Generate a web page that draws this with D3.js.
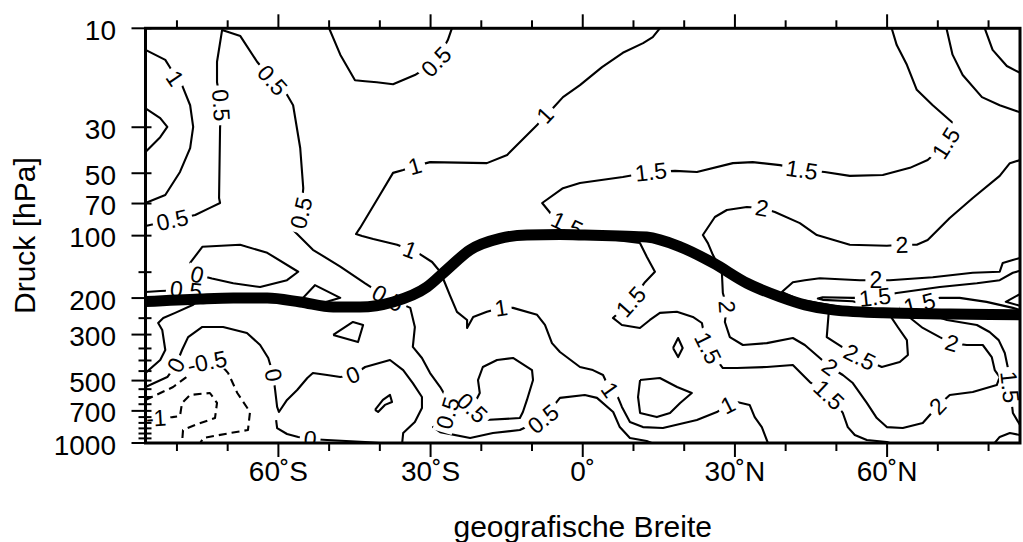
<!DOCTYPE html>
<html>
<head>
<meta charset="utf-8">
<script src="https://cdn.jsdelivr.net/npm/d3@7"></script>
<style>
  body { margin: 0; background: #fff; }
  svg { display: block; }
  text { font-family: "Liberation Sans", Arial, Helvetica, sans-serif; fill: #000; }
</style>
</head>
<body>
<svg id="chart" width="1023" height="542"></svg>
<script>
// ---------- axes ----------
const latMajorTicks = [-60, -30, 0, 30, 60];
const latMajorLabels = ["60˚S", "30˚S", "0˚", "30˚N", "60˚N"];
const latMinorTicks = [-80, -70, -50, -40, -20, -10, 10, 20, 40, 50, 70, 80];
const pressureTicks = [10, 30, 50, 70, 100, 200, 300, 500, 700, 1000];
const pressureLevelTicks = [150, 250, 350, 400, 450, 550, 600, 650, 750, 800, 850, 900, 950];

// ---------- tropopause (lat, hPa) ----------
const tropopause = [[-86.2,208],[-75.4,202],[-68.9,200],[-62.2,200],[-55.7,209],[-49.2,221],[-43.9,221],
  [-37.4,209],[-30.7,177],[-26.8,146],[-22.2,117],[-16.3,103],[-11.0,99.3],[-4.5,98.8],[0.4,99.3],
  [7.3,100.4],[12.6,101.6],[19.2,113.2],[25.7,135.4],[32.4,169.6],[38.9,197.3],[43.8,215.6],
  [49.3,228],[59.2,235.7],[72.4,238.4],[86.2,241]];

// ---------- isolines (lat, hPa) ----------
const iso05a = [[-86.2,89.9],[-80.9,84.1],[-76.4,79.5],[-73.5,73.5],[-71.5,69.6],[-71.7,65.8],[-71.5,30.2],
  [-71.3,23.5],[-72.1,18.2],[-72.1,14.5],[-71.1,10.2],[-67.5,10.9],[-64.2,14.5],[-61.2,17.8],[-58.3,20.9],
  [-57.1,23.5],[-55.7,37.8],[-55.1,59.0],[-55.5,77.7],[-57.1,93.9],[-53.2,117],[-47.8,141],[-42.9,170],
  [-38.4,200],[-34.0,223],[-33.1,276],[-33.5,344],[-31.7,389],[-30.1,460],[-28.1,537],[-26.6,620],
  [-26.6,717],[-28.1,819],[-29.5,838],[-28.1,886],[-22.2,946],[-17.7,895],[-12.4,866],[-7.8,766],
  [-4.5,606],[0.4,587],[2.8,606],[6.0,709],[7.3,838],[9.3,946],[12.6,978],[13.6,1000]];
const iso05aLabels = [[-80.9,84.1],[-71.3,23.5],[-61.2,17.8],[-55.5,77.7],[-38.4,200],[-26.6,717],[-7.8,766]];

const iso05b = [[-50.0,10],[-47.8,13.4],[-44.9,17.8],[-42.9,18.0],[-40.6,18.2],[-37.4,18.6],[-33.1,16.8],
  [-28.9,14.5],[-26.6,11.4],[-25.8,10]];
const iso05bLabels = [[-28.9,14.5]];

const iso1a = [[-86.2,12.7],[-82.3,14.2],[-81.3,15.55],[-80.4,17.4],[-79.0,18.8],[-77.4,23.5],[-76.8,29.9],
  [-77.4,37.8],[-79.4,49.3],[-82.3,63.7],[-86.2,69.6]];
const iso1aLabels = [[-80.4,17.4]];

const iso15a = [[-86.2,24.3],[-83.3,27.1],[-81.9,29.9],[-83.3,33.5],[-86.2,39.5]];

const iso1b = [[15.2,10],[13.8,11.03],[11.9,11.79],[7.9,13.13],[3.8,15.38],[-0.55,18.8],[-3.9,21.47],
  [-5.9,24.3],[-7.45,26.2],[-9.0,29.3],[-14.9,40.8],[-18.9,44.7],[-30.1,44.2],[-33.1,46.2],[-35.4,48.2],
  [-37.4,49.8],[-40.0,63.7],[-43.9,91.8],[-44.7,98.2],[-43.5,100.4],[-41.3,103.8],[-36.6,110.7],
  [-34.05,117],[-32.5,121],[-29.7,134],[-28.1,149.3],[-27.15,169.6],[-26.2,193.4],[-24.8,233],
  [-22.8,255],[-22.8,278.7],[-21.6,246.6],[-18.9,233],[-16.1,223],[-13.75,223],[-9.0,241],[-7.45,269.6],
  [-6.07,329.8],[-4.49,364],[-0.55,430],[2.0,445],[4.0,470],[5.36,555],[6.74,586.5],[7.72,670],
  [9.3,792],[11.86,838],[15.8,847],[22.5,775],[26.44,709],[28.6,655],[30.4,634],[32.9,655],[33.9,750],
  [35.3,838],[36.5,1000]];
const iso1bLabels = [[-7.45,26.2],[-33.1,46.2],[-34.05,117],[-16.1,223],[5.36,555],[28.6,655]];

const iso15b = [[60.9,10],[61.9,12.05],[63.9,15.0],[65.85,19.8],[69.0,23.5],[72.75,28.3],[71.6,35.8],
  [68.0,43.2],[64.5,47.1],[59.15,51.0],[52.65,51.5],[47.7,49.3],[43.2,48.2],[38.9,45.7],[33.5,44.2],
  [29.6,44.7],[22.5,49.3],[18.2,48.7],[13.44,49.3],[7.9,52.1],[-0.55,55.7],[-3.9,59.0],[-8.0,69.6],
  [-6.07,79.5],[-3.1,88.5],[1.0,96],[5.36,104],[11.27,108.6],[12.65,126.7],[14.23,149.3],
  [12.26,167.7],[9.5,208.6],[5.95,249.4],[7.72,269.6],[11.27,278.7],[13.24,255],[15.21,235.7],
  [18.56,233],[21.71,246.6],[23.49,263.8],[23.68,278.7],[24.67,348],[27.62,435],[30.38,435],
  [36.29,430],[41.42,420.9],[43.78,480.7],[44.77,508],[48.51,586.5],[51.27,716.5],[52.25,838],
  [53.63,915],[56.0,967],[59.94,989],[60.53,1000]];
const iso15bLabels = [[71.6,35.8],[43.2,48.2],[13.44,49.3],[-3.1,88.5],[9.5,208.6],[24.67,348],[48.51,586.5]];

const iso2a = [[86.2,43.2],[84.2,44.7],[82.2,51.5],[76.9,65.8],[72.35,82.2],[69.0,99.3],[68.0,105],
  [65.85,110.7],[62.9,110.7],[59.94,111.9],[52.65,110.7],[46.15,99.3],[42.8,87.0],[37.87,76.9],
  [35.31,73.5],[32.35,72.7],[28.41,75.2],[26.05,81.3],[23.68,99.3],[24.67,108.6],[25.65,123.7],
  [27.43,151],[27.62,189.2],[28.41,220.5],[28.02,260.8],[29.0,308.5],[31.57,336.8],[36.29,329.8],
  [41.42,311.7],[43.78,336.8],[46.74,389],[48.71,430],[51.27,470],[53.24,513.9],[56.0,641],
  [57.97,758],[59.94,838],[63.09,847],[67.03,801],[69.99,663],[72.35,586.5],[76.89,567.5],
  [81.61,525.4],[82.2,480.7],[81.22,445],[80.63,385],[78.86,336.8],[75.7,336.8],[72.75,329.8],
  [70.38,308.5],[67.03,278.7],[65.06,255],[63.88,241],[58.56,233],[50.68,220.5],[42.8,204],
  [39.25,187],[41.42,167.7],[43.78,164],[46.74,160.4],[54.62,164],[57.77,164],[60.53,164],
  [69.0,158.6],[76.89,151],[82.2,149.3],[82.8,135.4],[84.77,131],[86.2,128.1]];
const iso2aLabels = [[62.9,110.7],[35.31,73.5],[28.41,220.5],[48.71,430],[69.99,663],[72.75,329.8],[57.77,164]];

const iso2b = [[71.7,10],[72.9,13.4],[74.9,16.8],[78.7,21.47],[82.2,23.5],[86.2,25.4]];
const iso25a = [[79.25,10],[80.8,12.7],[83.6,15.2],[86.2,16.4]];

const iso25b = [[48.5,233],[48.1,308.5],[51.1,344],[54.6,385],[58.95,430],[62.5,407],[64.1,376],
  [63.9,319],[62.1,275.7],[60.9,249.4],[60.5,233]];
const iso25bLabels = [[54.6,385]];

const iso15c = [[56.6,218],[53.2,207.2],[47.3,204],[46.35,201],[47.3,198.2],[53.2,199.5],[57.6,198.2],
  [61.9,189.2],[70.4,177],[77.7,169.6],[82.2,164],[84.8,151],[86.2,147.6]];
const iso15cLabels = [[57.6,198.2]];

const iso15d = [[62.5,223],[66.4,213.3],[70.4,199.5],[74.3,199.5],[79.6,208.6],[84.8,223],[86.2,228]];
const iso15dLabels = [[66.4,213.3]];

const iso2c = [[86.2,191.3],[83.4,208.6],[86.2,218]];

const iso15e = [[69.4,244],[71.8,255],[77.7,269.6],[80.2,291.4],[82.0,319],[83.2,368],[83.9,445],
  [84.2,537],[84.8,716.5],[86.2,819]];
const iso15eLabels = [[84.2,537]];

const iso15f = [[81.2,1000],[82.2,935],[84.2,895],[86.2,915]];
const iso15g = [[17.8,348],[18.8,311.7],[19.7,348],[18.8,385],[17.8,348]];

const iso0a = [[-76.0,154.3],[-73.1,160.9],[-68.9,169.6],[-63.6,177],[-58.3,164],[-56.1,149.3],
  [-62.2,121],[-67.55,110.7],[-75.0,113.2],[-77.4,135.4],[-76.0,154.3]];
const iso0aLabels = [[-76.0,154.3]];

const iso0b = [[-55.7,206.3],[-52.8,173.3],[-47.8,199.5],[-51.8,213.3],[-55.7,206.3]];
const iso0c = [[-49.2,301.3],[-45.3,260.8],[-43.3,269.6],[-44.3,326],[-49.2,301.3]];

const iso05c = [[-86.2,187],[-83.3,185],[-78.2,183],[-74.8,195.1],[-76.8,215.6],[-80.35,235.7],
  [-82.7,249.4],[-83.7,263.8],[-82.9,285],[-82.3,356],[-83.3,398],[-86.2,460]];
const iso05cLabels = [[-78.2,183]];

const iso0d = [[-86.2,537],[-81.9,480.7],[-80.2,420.9],[-79.0,356],[-77.8,308.5],[-75.0,275.7],
  [-70.9,275.7],[-66.2,294.7],[-63.6,336.8],[-62.0,389],[-61.0,470],[-60.65,555],[-60.25,670],
  [-59.9,708.6],[-58.3,620],[-56.3,555],[-54.3,486],[-53.2,460],[-50.4,470],[-47.8,480.7],[-45.3,470],
  [-42.9,430],[-38.0,398],[-35.4,445],[-33.5,513.9],[-31.7,600],[-31.7,678],[-33.1,792],[-35.4,895],
  [-35.6,1000]];
const iso0dLabels = [[-80.2,420.9],[-61.0,470],[-45.3,470]];

const iso0e = [[-60.45,775],[-60.25,847],[-58.3,905],[-56.1,935.3],[-53.75,956],[-50.4,967],[-42.9,989],[-40.0,1000]];
const iso0eLabels = [[-53.75,956]];

const iso0f = [[-40.95,693],[-39.4,620],[-38.0,586.5],[-37.6,634],[-39.0,655],[-40.35,708.6],[-40.95,693]];

const isoM05 = [[-86.2,620],[-80.75,537],[-76.8,455],[-74.05,407],[-71.1,425.6],[-69.9,460],[-68.1,573.9],
  [-65.6,708.6],[-66.0,866],[-69.5,895],[-74.8,945.7],[-75.4,1000]];
const isoM05Labels = [[-74.05,407]];

const isoM1 = [[-84.1,758],[-80.9,750],[-79.4,741],[-79.0,641],[-77.4,586.5],[-73.5,573.9],[-72.1,641],
  [-72.5,758],[-76.0,810],[-78.8,866],[-79.0,1000]];
const isoM1Labels = [[-84.1,758]];

const iso05d = [[-21.8,678],[-19.3,775],[-12.4,758],[-11.8,708.6],[-11.0,620],[-9.8,497],[-10.0,445],
  [-13.75,389],[-16.9,398],[-19.7,430],[-20.65,497],[-20.3,573.9],[-21.8,678]];
const iso05dLabels = [[-21.8,678]];

const iso05e = [[11.3,497],[15.2,486],[18.6,537],[21.5,573.9],[19.2,641],[17.2,716.5],[14.6,750],
  [11.3,716.5],[10.9,600],[11.3,497]];

// level of each isoline and its labels
const isolines = [
  { level: 0.5, pts: iso05a, labels: iso05aLabels },
  { level: 0.5, pts: iso05b, labels: iso05bLabels },
  { level: 1, pts: iso1a, labels: iso1aLabels },
  { level: 1.5, pts: iso15a, labels: [] },
  { level: 1, pts: iso1b, labels: iso1bLabels },
  { level: 1.5, pts: iso15b, labels: iso15bLabels },
  { level: 2, pts: iso2a, labels: iso2aLabels },
  { level: 2, pts: iso2b, labels: [] },
  { level: 2.5, pts: iso25a, labels: [] },
  { level: 2.5, pts: iso25b, labels: iso25bLabels },
  { level: 1.5, pts: iso15c, labels: iso15cLabels },
  { level: 1.5, pts: iso15d, labels: iso15dLabels },
  { level: 2, pts: iso2c, labels: [] },
  { level: 1.5, pts: iso15e, labels: iso15eLabels },
  { level: 1.5, pts: iso15f, labels: [] },
  { level: 1.5, pts: iso15g, labels: [] },
  { level: 0, pts: iso0a, labels: iso0aLabels },
  { level: 0, pts: iso0b, labels: [] },
  { level: 0, pts: iso0c, labels: [] },
  { level: 0.5, pts: iso05c, labels: iso05cLabels },
  { level: 0, pts: iso0d, labels: iso0dLabels },
  { level: 0, pts: iso0e, labels: iso0eLabels },
  { level: 0, pts: iso0f, labels: [] },
  { level: -0.5, pts: isoM05, labels: isoM05Labels },
  { level: -1, pts: isoM1, labels: isoM1Labels },
  { level: 0.5, pts: iso05d, labels: iso05dLabels },
  { level: 0.5, pts: iso05e, labels: [] }
];

// ---------- layout ----------
const W = 1023, H = 542;
const plot = { left: 145.5, right: 1020, top: 28.3, bottom: 443 };
const x = d3.scaleLinear().domain([-86.2, 86.2]).range([plot.left, plot.right]);
const y = d3.scaleLog().domain([10, 1000]).range([plot.top, plot.bottom]);

const svg = d3.select("#chart");
const defs = svg.append("defs");
defs.append("clipPath").attr("id", "plotClip")
  .append("rect")
  .attr("x", plot.left).attr("y", plot.top)
  .attr("width", plot.right - plot.left).attr("height", plot.bottom - plot.top);

const gapMask = defs.append("mask").attr("id", "labelGaps")
  .attr("maskUnits", "userSpaceOnUse")
  .attr("x", 0).attr("y", 0).attr("width", W).attr("height", H);
gapMask.append("rect").attr("width", W).attr("height", H).attr("fill", "#fff");

const lineGen = d3.line().x(d => x(d[0])).y(d => y(d[1]));

// isolines
const isoLayer = svg.append("g").attr("clip-path", "url(#plotClip)")
  .append("g").attr("mask", "url(#labelGaps)");
isoLayer.selectAll("path")
  .data(isolines)
  .join("path")
  .attr("d", d => lineGen(d.pts))
  .attr("fill", "none")
  .attr("stroke", "#000")
  .attr("stroke-width", 2.1)
  .attr("stroke-linejoin", "round")
  .attr("stroke-dasharray", d => d.level < 0 ? "8,5" : null);

// label orientation follows the local direction of the isoline
function labelAngle(pts, lab) {
  const px = pts.map(d => [x(d[0]), y(d[1])]);
  const lx = x(lab[0]), ly = y(lab[1]);
  let bi = 0, bd = Infinity;
  px.forEach((q, i) => {
    const dd = (q[0] - lx) ** 2 + (q[1] - ly) ** 2;
    if (dd < bd) { bd = dd; bi = i; }
  });
  const a = px[Math.max(bi - 1, 0)], b = px[Math.min(bi + 1, px.length - 1)];
  let ang = Math.atan2(b[1] - a[1], b[0] - a[0]) * 180 / Math.PI;
  if (ang > 90) ang -= 180;
  if (ang < -90) ang += 180;
  return ang;
}

const labelLayer = svg.append("g").attr("clip-path", "url(#plotClip)");
isolines.forEach(iso => {
  iso.labels.forEach(lab => {
    const ang = labelAngle(iso.pts, lab);
    const lx = x(lab[0]), ly = y(lab[1]);
    const t = labelLayer.append("text")
      .attr("transform", `translate(${lx},${ly}) rotate(${ang})`)
      .attr("text-anchor", "middle")
      .attr("dominant-baseline", "central")
      .attr("font-size", 23)
      .text(String(iso.level));
    const w = t.node().getComputedTextLength();
    gapMask.append("rect")
      .attr("x", -w / 2 - 4).attr("y", -10)
      .attr("width", w + 8).attr("height", 20)
      .attr("transform", `translate(${lx},${ly}) rotate(${ang})`)
      .attr("fill", "#000");
  });
});

// tropopause
svg.append("g").attr("clip-path", "url(#plotClip)")
  .append("path")
  .attr("d", d3.line().x(d => x(d[0])).y(d => y(d[1])).curve(d3.curveMonotoneX)(tropopause))
  .attr("fill", "none")
  .attr("stroke", "#000")
  .attr("stroke-width", 11);

// ---------- frame and ticks ----------
const axisG = svg.append("g").attr("stroke", "#000");
axisG.append("rect")
  .attr("x", plot.left).attr("y", plot.top)
  .attr("width", plot.right - plot.left).attr("height", plot.bottom - plot.top)
  .attr("fill", "none").attr("stroke-width", 3);

latMinorTicks.forEach(v => {
  axisG.append("line").attr("x1", x(v)).attr("x2", x(v)).attr("y1", plot.top).attr("y2", plot.top - 8).attr("stroke-width", 2);
  axisG.append("line").attr("x1", x(v)).attr("x2", x(v)).attr("y1", plot.bottom).attr("y2", plot.bottom + 8).attr("stroke-width", 2);
});
latMajorTicks.forEach(v => {
  axisG.append("line").attr("x1", x(v)).attr("x2", x(v)).attr("y1", plot.top).attr("y2", plot.top - 14).attr("stroke-width", 2);
  axisG.append("line").attr("x1", x(v)).attr("x2", x(v)).attr("y1", plot.bottom).attr("y2", plot.bottom + 14).attr("stroke-width", 2);
});
pressureTicks.forEach(v => {
  axisG.append("line").attr("x1", plot.left - 14).attr("x2", plot.left + 6).attr("y1", y(v)).attr("y2", y(v)).attr("stroke-width", 2);
});
pressureLevelTicks.forEach(v => {
  axisG.append("line").attr("x1", plot.left - 7).attr("x2", plot.left + 6).attr("y1", y(v)).attr("y2", y(v)).attr("stroke-width", 2);
});

// tick labels
const textG = svg.append("g");
latMajorTicks.forEach((v, i) => {
  textG.append("text").attr("x", x(v)).attr("y", 481)
    .attr("text-anchor", "middle").attr("font-size", 28).text(latMajorLabels[i]);
});
pressureTicks.forEach(v => {
  textG.append("text").attr("x", 116).attr("y", y(v) + 2)
    .attr("text-anchor", "end").attr("dominant-baseline", "central")
    .attr("font-size", 28).text(String(v));
});

// axis titles
textG.append("text")
  .attr("transform", `translate(35,${(plot.top + plot.bottom) / 2}) rotate(-90)`)
  .attr("text-anchor", "middle").attr("font-size", 30).text("Druck [hPa]");
textG.append("text")
  .attr("x", (plot.left + plot.right) / 2).attr("y", 537)
  .attr("text-anchor", "middle").attr("font-size", 30).text("geografische Breite");
</script>
</body>
</html>
